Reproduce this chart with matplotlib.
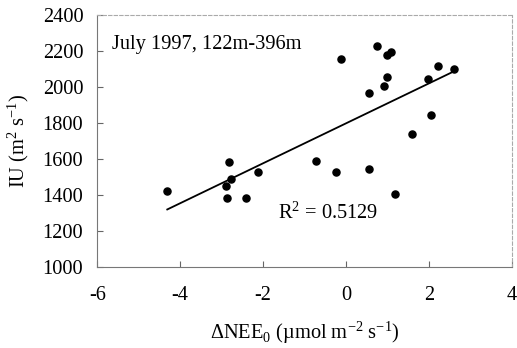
import numpy as np
import matplotlib.pyplot as plt

plt.rcParams['font.family'] = ['Liberation Serif', 'DejaVu Serif']
plt.rcParams['mathtext.fontset'] = 'custom'
plt.rcParams['mathtext.rm'] = 'Liberation Serif'
plt.rcParams['axes.unicode_minus'] = False

# dNEE0 (umol m-2 s-1) vs IU (m2 s-1), July 1997, 122m-396m
dnee = [-4.31, -2.83, -2.78, -2.89, -2.87, -2.41, -2.12,
        -0.72, -0.23, 0.56, -0.12, 0.55, 0.92, 1.00, 1.00,
        1.08, 0.76, 1.19, 1.59, 2.06, 1.98, 2.21, 2.60]
iu = [1424, 1582, 1487, 1452, 1381, 1383, 1526,
      1589, 1526, 1544, 2156, 1965, 2007, 2057, 2178,
      2196, 2228, 1405, 1739, 1844, 2043, 2118, 2098]
r2_text = "R$^2$ = 0.5129"

x = np.array(dnee)
y = np.array(iu)
slope, icept = np.polyfit(x, y, 1)
xl = np.array([x.min(), x.max()])

fs = 14.7
fig = plt.figure(figsize=(5.17, 3.48), dpi=100)
ax = fig.add_axes([0.188, 0.233, 0.802, 0.724])

ax.scatter(x, y, s=26, color='black', zorder=3)
ax.plot(xl, slope * xl + icept, color='black', lw=1.3)

ax.set_xlim(-6, 4)
ax.set_ylim(1000, 2400)
ax.set_xticks(np.arange(-6, 5, 2))
ax.set_yticks(np.arange(1000, 2401, 200))
ax.tick_params(direction='in', length=4, labelsize=fs, color='#666666')
ax.tick_params(axis='x', pad=14)
ax.tick_params(axis='y', pad=10)

for s in ['left', 'bottom']:
    ax.spines[s].set_color('#777777')
for s in ['top', 'right']:
    ax.spines[s].set_color('#aaaaaa')
    ax.spines[s].set_linestyle((0, (3, 2)))
    ax.spines[s].set_linewidth(0.8)

ax.text(-5.65, 2237, "July 1997, 122m-396m", fontsize=fs, va='center')
ax.text(-1.65, 1300, r2_text, fontsize=fs, va='center')

ax.set_xlabel("ΔNEE$_0$ (µmol m$^{-2}$ s$^{-1}$)", fontsize=fs, labelpad=10)
ax.set_ylabel("IU (m$^2$ s$^{-1}$)", fontsize=fs, labelpad=8)

fig.savefig("out.png", dpi=100)
